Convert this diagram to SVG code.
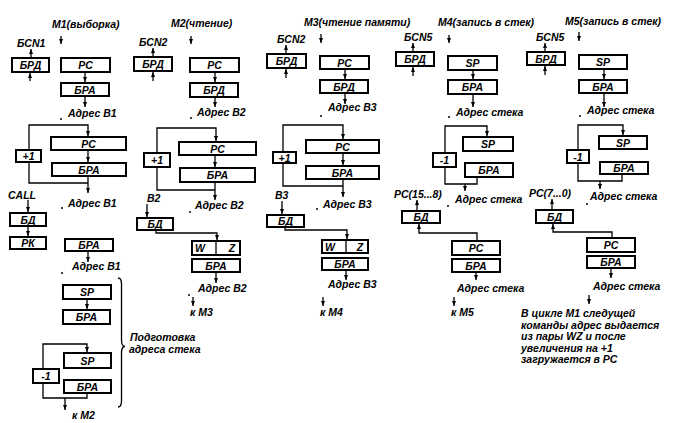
<svg xmlns="http://www.w3.org/2000/svg" width="676" height="423" viewBox="0 0 676 423">
<style>
text{font-family:"Liberation Sans",Arial,sans-serif;font-weight:bold;font-style:italic;font-size:10.5px;fill:#000}
.c{text-anchor:middle}
.b{fill:#fff;stroke:#000;stroke-width:2}
.l{fill:none;stroke:#000;stroke-width:1.3}
.a{fill:none;stroke:#000;stroke-width:1.3;marker-end:url(#ah)}
.d{fill:#000}
</style>
<defs>
<marker id="ah" viewBox="0 0 5 4" refX="5" refY="2" markerWidth="5" markerHeight="4" markerUnits="userSpaceOnUse" orient="auto"><path d="M0,0 L5,2 L0,4 z"/></marker>
</defs>
<rect width="676" height="423" fill="#fff"/>

<g id="connectors">
<!-- column 1 -->
<line class="a" x1="61" y1="36" x2="61" y2="44"/>
<line class="a" x1="31" y1="58" x2="31" y2="49"/>
<line class="a" x1="30" y1="81" x2="30" y2="73"/>
<line class="a" x1="85" y1="72" x2="85" y2="82"/>
<line class="a" x1="85" y1="96" x2="85" y2="107"/>
<path class="a" d="M29,150 V125 H88 V136"/>
<line class="a" x1="88" y1="150" x2="88" y2="162"/>
<path class="l" d="M29,162 V183 H88 M88,176 V183"/>
<line class="a" x1="88" y1="183" x2="88" y2="193"/>
<line class="a" x1="28" y1="200" x2="28" y2="212"/>
<line class="a" x1="28" y1="226" x2="28" y2="236"/>
<line class="a" x1="88" y1="251" x2="88" y2="262"/>
<line class="a" x1="87" y1="299" x2="87" y2="309"/>
<path class="a" d="M43,369 V344 H87 V352"/>
<path class="l" d="M43,383 V398 H87 V393"/>
<line class="a" x1="65" y1="398" x2="65" y2="410"/>
<path class="l" d="M118,278 Q121.5,278 121.5,284 L121.5,340 Q121.5,346.5 125,346.5 Q121.5,346.5 121.5,353 L121.5,401 Q121.5,407 118,407"/>
<!-- column 2 -->
<line class="a" x1="191" y1="36" x2="191" y2="44"/>
<line class="a" x1="153" y1="57" x2="153" y2="48"/>
<line class="a" x1="153" y1="81" x2="153" y2="72"/>
<line class="a" x1="215" y1="72" x2="215" y2="82"/>
<line class="a" x1="215" y1="97" x2="215" y2="107"/>
<path class="a" d="M157,153 V128 H216 V141"/>
<line class="a" x1="215" y1="155" x2="215" y2="167"/>
<path class="l" d="M157,167 V190 H215 M215,182 V190"/>
<line class="a" x1="215" y1="190" x2="215" y2="200"/>
<line class="a" x1="147" y1="204" x2="147" y2="217"/>
<path class="a" d="M156,230 V233 H217 V240"/>
<line class="a" x1="216" y1="272" x2="216" y2="283"/>
<line class="a" x1="193" y1="297" x2="193" y2="306"/>
<!-- column 3 -->
<line class="a" x1="321" y1="34" x2="321" y2="43"/>
<line class="a" x1="286" y1="54" x2="286" y2="45"/>
<line class="a" x1="286" y1="78" x2="286" y2="69"/>
<line class="a" x1="345" y1="69" x2="345" y2="79"/>
<line class="a" x1="345" y1="93" x2="345" y2="104"/>
<path class="a" d="M283,152 V125 H343 V139"/>
<line class="a" x1="343" y1="153" x2="343" y2="165"/>
<path class="l" d="M283,163 V186 H343 M343,179 V186"/>
<line class="a" x1="343" y1="186" x2="343" y2="197"/>
<line class="a" x1="282" y1="201" x2="282" y2="214"/>
<path class="a" d="M285,227 V230 H347 V239"/>
<line class="a" x1="346" y1="270" x2="346" y2="280"/>
<line class="a" x1="323" y1="297" x2="323" y2="306"/>
<!-- column 4 -->
<line class="a" x1="449" y1="35" x2="449" y2="43"/>
<line class="a" x1="413" y1="52" x2="413" y2="43"/>
<line class="a" x1="413" y1="76" x2="413" y2="67"/>
<line class="a" x1="473" y1="70" x2="473" y2="79"/>
<line class="a" x1="473" y1="94" x2="473" y2="107"/>
<path class="a" d="M445,153 V126 H487 V136"/>
<path class="l" d="M445,167 V184 H477 V177"/>
<line class="a" x1="465" y1="184" x2="465" y2="191"/>
<line class="a" x1="417" y1="211" x2="417" y2="200"/>
<path class="a" d="M477,241 V233 H419 V224"/>
<line class="a" x1="476" y1="272" x2="476" y2="280"/>
<line class="a" x1="454" y1="297" x2="454" y2="306"/>
<!-- column 5 -->
<line class="a" x1="579" y1="32" x2="579" y2="41"/>
<line class="a" x1="545" y1="52" x2="545" y2="43"/>
<line class="a" x1="545" y1="75" x2="545" y2="66"/>
<line class="a" x1="604" y1="69" x2="604" y2="79"/>
<line class="a" x1="604" y1="93" x2="604" y2="107"/>
<path class="a" d="M578,150 V125 H623 V135"/>
<path class="l" d="M578,163 V181 H622 V174"/>
<line class="a" x1="600" y1="181" x2="600" y2="189"/>
<line class="a" x1="552" y1="209" x2="552" y2="199"/>
<path class="a" d="M612,238 V232 H553 V224"/>
<line class="a" x1="611" y1="268" x2="611" y2="278"/>
<line class="a" x1="589" y1="295" x2="589" y2="304"/>
</g>

<!-- column 1 nodes -->
<g id="m1-brd"><rect class="b" x="12" y="58" width="37" height="14"/><text class="c" x="30.5" y="69">БРД</text></g>
<g id="m1-pc"><rect class="b" x="61" y="58" width="49" height="14"/><text class="c" x="85.5" y="69">PC</text></g>
<g id="m1-bra"><rect class="b" x="61" y="83" width="48" height="13"/><text class="c" x="85" y="93.5">БРА</text></g>
<g id="m1-pc2"><rect class="b" x="51" y="137" width="75" height="13"/><text class="c" x="88.5" y="147.5">PC</text></g>
<g id="m1-inc"><rect class="b" x="16" y="150" width="25" height="12"/><text class="c" x="28.5" y="160">+1</text></g>
<g id="m1-bra2"><rect class="b" x="52" y="163" width="74" height="13"/><text class="c" x="89" y="173.5">БРА</text></g>
<g id="m1-bd"><rect class="b" x="10" y="213" width="36" height="13"/><text class="c" x="28" y="223.5">БД</text></g>
<g id="m1-rk"><rect class="b" x="10" y="237" width="36" height="12"/><text class="c" x="28" y="247">РК</text></g>
<g id="m1-bra3"><rect class="b" x="65" y="239" width="48" height="12"/><text class="c" x="89" y="249">БРА</text></g>
<g id="m1-sp"><rect class="b" x="63" y="285" width="48" height="14"/><text class="c" x="87" y="296">SP</text></g>
<g id="m1-bra4"><rect class="b" x="63" y="310" width="47" height="14"/><text class="c" x="86.5" y="321">БРА</text></g>
<g id="m1-sp2"><rect class="b" x="64" y="353" width="47" height="15"/><text class="c" x="87.5" y="364.5">SP</text></g>
<g id="m1-dec"><rect class="b" x="33" y="369" width="26" height="14"/><text class="c" x="46" y="380">-1</text></g>
<g id="m1-bra5"><rect class="b" x="64" y="380" width="47" height="13"/><text class="c" x="87.5" y="390.5">БРА</text></g>

<!-- column 2 nodes -->
<g id="m2-brd"><rect class="b" x="134" y="57" width="38" height="14"/><text class="c" x="153" y="68">БРД</text></g>
<g id="m2-pc"><rect class="b" x="190" y="58" width="49" height="14"/><text class="c" x="214.5" y="69">PC</text></g>
<g id="m2-brd2"><rect class="b" x="190" y="83" width="48" height="14"/><text class="c" x="214" y="94">БРД</text></g>
<g id="m2-pc2"><rect class="b" x="179" y="142" width="77" height="13"/><text class="c" x="217.5" y="152.5">PC</text></g>
<g id="m2-inc"><rect class="b" x="144" y="153" width="26" height="14"/><text class="c" x="157" y="164">+1</text></g>
<g id="m2-bra"><rect class="b" x="180" y="168" width="75" height="14"/><text class="c" x="217.5" y="179">БРА</text></g>
<g id="m2-bd"><rect class="b" x="137" y="218" width="36" height="12"/><text class="c" x="155" y="228">БД</text></g>
<g id="m2-wz"><rect class="b" x="192" y="241" width="48" height="14"/><line class="l" x1="216" y1="241" x2="216" y2="255"/><text class="c" x="200" y="252">W</text><text class="c" x="232" y="252">Z</text></g>
<g id="m2-bra2"><rect class="b" x="192" y="259" width="48" height="13"/><text class="c" x="216" y="269.5">БРА</text></g>

<!-- column 3 nodes -->
<g id="m3-brd"><rect class="b" x="267" y="54" width="39" height="14"/><text class="c" x="286.5" y="65">БРД</text></g>
<g id="m3-pc"><rect class="b" x="320" y="56" width="49" height="13"/><text class="c" x="344.5" y="66.5">PC</text></g>
<g id="m3-brd2"><rect class="b" x="320" y="80" width="48" height="13"/><text class="c" x="344" y="90.5">БРД</text></g>
<g id="m3-pc2"><rect class="b" x="306" y="140" width="73" height="13"/><text class="c" x="342.5" y="150.5">PC</text></g>
<g id="m3-inc"><rect class="b" x="273" y="152" width="23" height="11"/><text class="c" x="284.5" y="161.5">+1</text></g>
<g id="m3-bra"><rect class="b" x="306" y="166" width="73" height="13"/><text class="c" x="342.5" y="176.5">БРА</text></g>
<g id="m3-bd"><rect class="b" x="267" y="215" width="37" height="12"/><text class="c" x="285.5" y="225">БД</text></g>
<g id="m3-wz"><rect class="b" x="322" y="240" width="46" height="13"/><line class="l" x1="346" y1="240" x2="346" y2="253"/><text class="c" x="330" y="250.5">W</text><text class="c" x="360" y="250.5">Z</text></g>
<g id="m3-bra2"><rect class="b" x="322" y="258" width="46" height="12"/><text class="c" x="345" y="268">БРА</text></g>

<!-- column 4 nodes -->
<g id="m4-brd"><rect class="b" x="396" y="52" width="38" height="14"/><text class="c" x="415" y="63">БРД</text></g>
<g id="m4-sp"><rect class="b" x="448" y="56" width="49" height="14"/><text class="c" x="472.5" y="67">SP</text></g>
<g id="m4-bra"><rect class="b" x="448" y="80" width="49" height="14"/><text class="c" x="472.5" y="91">БРА</text></g>
<g id="m4-sp2"><rect class="b" x="463" y="137" width="50" height="14"/><text class="c" x="488" y="148">SP</text></g>
<g id="m4-dec"><rect class="b" x="433" y="153" width="23" height="14"/><text class="c" x="444.5" y="164">-1</text></g>
<g id="m4-bra2"><rect class="b" x="465" y="163" width="48" height="14"/><text class="c" x="489" y="174">БРА</text></g>
<g id="m4-bd"><rect class="b" x="402" y="211" width="38" height="12"/><text class="c" x="421" y="221">БД</text></g>
<g id="m4-pc"><rect class="b" x="452" y="241" width="48" height="14"/><text class="c" x="476" y="252">PC</text></g>
<g id="m4-bra3"><rect class="b" x="452" y="259" width="48" height="13"/><text class="c" x="476" y="269.5">БРА</text></g>

<!-- column 5 nodes -->
<g id="m5-brd"><rect class="b" x="527" y="52" width="38" height="13"/><text class="c" x="546" y="62.5">БРД</text></g>
<g id="m5-sp"><rect class="b" x="579" y="55" width="48" height="14"/><text class="c" x="603" y="66">SP</text></g>
<g id="m5-bra"><rect class="b" x="579" y="80" width="48" height="13"/><text class="c" x="603" y="90.5">БРА</text></g>
<g id="m5-sp2"><rect class="b" x="599" y="136" width="48" height="13"/><text class="c" x="623" y="146.5">SP</text></g>
<g id="m5-dec"><rect class="b" x="567" y="150" width="22" height="13"/><text class="c" x="578" y="160.5">-1</text></g>
<g id="m5-bra2"><rect class="b" x="600" y="162" width="48" height="12"/><text class="c" x="624" y="172">БРА</text></g>
<g id="m5-bd"><rect class="b" x="536" y="210" width="37" height="13"/><text class="c" x="554.5" y="220.5">БД</text></g>
<g id="m5-pc"><rect class="b" x="587" y="238" width="48" height="14"/><text class="c" x="611" y="249">PC</text></g>
<g id="m5-bra3"><rect class="b" x="587" y="256" width="48" height="12"/><text class="c" x="611" y="266">БРА</text></g>

<g id="labels">
<text x="52" y="28">M1(выборка)</text>
<text x="17" y="47">БСN1</text>
<text x="68" y="117">Адрес B1</text>
<text x="8" y="199">CALL</text>
<text x="68" y="207">Адрес B1</text>
<text x="72" y="270">Адрес B1</text>
<text x="72" y="419">к M2</text>
<text x="130" y="341">Подготовка</text>
<text x="129" y="353">адреса стека</text>

<text x="171" y="27">M2(чтение)</text>
<text x="139" y="46">БСN2</text>
<text x="197" y="116">Адрес B2</text>
<text x="147" y="202">B2</text>
<text x="195" y="209">Адрес B2</text>
<text x="198" y="292">Адрес B2</text>
<text x="190" y="316">к M3</text>

<text x="304" y="26">M3(чтение памяти)</text>
<text x="277" y="43">БСN2</text>
<text x="328" y="111">Адрес B3</text>
<text x="275" y="199">B3</text>
<text x="323" y="208">Адрес B3</text>
<text x="328" y="288">Адрес B3</text>
<text x="320" y="316">к M4</text>

<text x="438" y="26">M4(запись в стек)</text>
<text x="404" y="41">БСN5</text>
<text x="456" y="116">Адрес стека</text>
<text x="394" y="198">PC(15...8)</text>
<text x="455" y="203">Адрес стека</text>
<text x="457" y="292">Адрес стека</text>
<text x="451" y="316">к M5</text>

<text x="565" y="25">M5(запись в стек)</text>
<text x="536" y="41">БСN5</text>
<text x="587" y="114">Адрес стека</text>
<text x="529" y="197">PC(7...0)</text>
<text x="590" y="200">Адрес стека</text>
<text x="593" y="290">Адрес стека</text>
<text x="521" y="317">В цикле М1 следущей</text>
<text x="521" y="328.5">команды адрес выдается</text>
<text x="521" y="340">из пары WZ и после</text>
<text x="521" y="351.5">увеличения на +1</text>
<text x="521" y="363">загружается в РС</text>
</g>

<g id="dots">
<circle class="d" cx="61" cy="119" r="1"/>
<circle class="d" cx="62" cy="208" r="1"/>
<circle class="d" cx="62" cy="273" r="1"/>
<circle class="d" cx="191" cy="118" r="1"/>
<circle class="d" cx="190" cy="212" r="1"/>
<circle class="d" cx="189" cy="295" r="1"/>
<circle class="d" cx="321" cy="116" r="1"/>
<circle class="d" cx="317" cy="209" r="1"/>
<circle class="d" cx="449" cy="117" r="1"/>
<circle class="d" cx="448" cy="206" r="1"/>
<circle class="d" cx="580" cy="116" r="1"/>
<circle class="d" cx="587" cy="204" r="1"/>
</g>
</svg>
